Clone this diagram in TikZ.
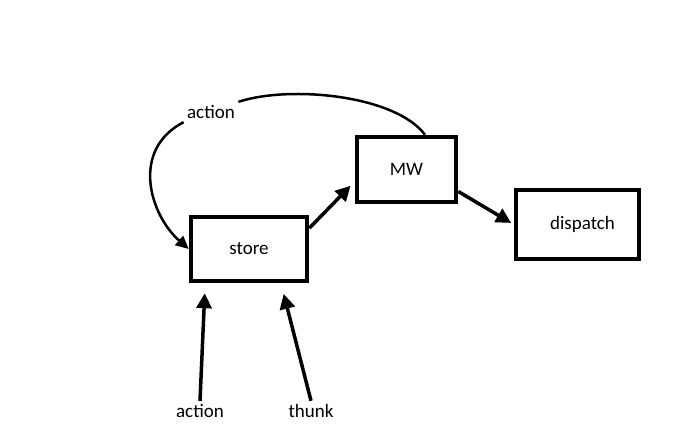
\documentclass[tikz,border=0pt]{standalone}
\usepackage{fontspec}
\setmainfont{Carlito}
\usetikzlibrary{arrows.meta}
\tikzset{
    box/.style={draw, line width=4.5pt, inner sep=0pt},
    flow/.style={line width=3.5pt, -{Triangle[length=15pt,width=15pt]}},
    loop/.style={line width=2.5pt, -{Triangle[length=13pt,width=12pt]}},
}
\begin{document}
\begin{tikzpicture}[x=1pt,y=-1pt,font=\fontsize{19}{21}\selectfont]
    \useasboundingbox (0,0) rectangle (674,443);

    \node[box, minimum width=116pt, minimum height=64pt] (store) at (249,249) {store};
    \node[box, minimum width=99pt, minimum height=65pt] (mw) at (406.5,169.5) {MW};
    \node[box, minimum width=123pt, minimum height=69pt] (dispatch) at (577.5,224.5) {\hspace{10pt}dispatch};

    \node (actionlbl) at (211,112) {action};
    \node (actionin) at (200,411) {action};
    \node (thunkin) at (311,411) {thunk};

    \draw[flow, shorten >=6pt] (store.19) -- (mw.193);
    \draw[flow, shorten >=3pt] (mw.-23) -- (dispatch.west);

    \draw[flow, shorten >=10pt] (actionin.north) -- (store.218);
    \draw[flow, shorten >=11pt] (thunkin.north) -- (store.-47);

    \draw[line width=2.5pt] (mw.62)
    .. controls (395,95) and (290,85) .. (actionlbl.north east);
    \draw[loop] (actionlbl.south west)
    .. controls (130,150) and (150,215) .. (store.west);
\end{tikzpicture}
\end{document}
